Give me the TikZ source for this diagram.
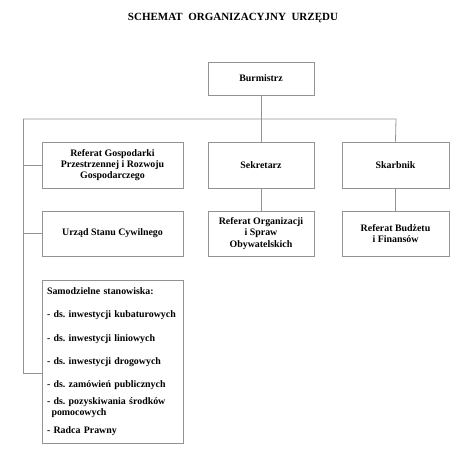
\documentclass[tikz,border=0pt]{standalone}
\usepackage{fontspec}
\setmainfont{Liberation Serif}
\usepackage{tikz}
\usetikzlibrary{positioning}
\frenchspacing

\begin{document}
\begin{tikzpicture}[x=1pt,y=1pt,font=\bfseries\fontsize{9.9}{11.2}\selectfont]
\useasboundingbox (0,0) rectangle (474,-471);
\node[font=\bfseries\fontsize{11}{13}\selectfont] (title) at (233,-18) {SCHEMAT\ \ ORGANIZACYJNY\ \ URZĘDU};

\begin{scope}[every node/.style={rectangle,draw=gray!85,line width=0.8pt,align=center,inner sep=2pt,minimum height=46pt}]
	\node[minimum width=106pt,minimum height=33pt] (burm) at (261,-78.5) {Burmistrz};

	\node[minimum width=141pt] (gosp) at (112.5,-165) {Referat Gospodarki\\
	Przestrzennej i Rozwoju\\ Gospodarczego};
	\node[minimum width=106pt] (sekr) at (261,-165) {Sekretarz};
	\node[minimum width=107pt] (skarb) at (395.5,-165) {Skarbnik};

	\node[minimum width=141pt,minimum height=45pt] (usc) at (112.5,-233.5) {Urząd Stanu Cywilnego};
	\node[minimum width=106pt,minimum height=45pt] (org) at (261,-233.5) {Referat Organizacji\\
	i Spraw\\ Obywatelskich};
	\node[minimum width=107pt,minimum height=45pt] (budz) at (395.5,-233.5) {Referat Budżetu\\
	i Finansów};

	\node[minimum width=141pt,minimum height=163pt,align=left,text width=131pt] (samo) at (112.5,-361.5) {Samodzielne stanowiska:\\[12.2pt]
	- ds.\ inwestycji kubaturowych\\[12.2pt]
	- ds.\ inwestycji liniowych\\[12.2pt]
	- ds.\ inwestycji drogowych\\[12.2pt]
	- ds.\ zamówień publicznych\\[5.5pt]
	- ds.\ pozyskiwania środków\\
	\hspace*{4.5pt}pomocowych\\[6.5pt]
	- Radca Prawny};
\end{scope}

\begin{scope}[draw=gray!85,line width=0.8pt]
	\coordinate (busl) at (23,-119);
	\coordinate (busr) at (396,-119);
	\coordinate (tap) at (23,-373);
	\draw (burm) -- (sekr);
	\draw (sekr) -- (org);
	\draw (busl) -- (busr) -- (skarb.north);
	\draw (skarb) -- (budz);
	\draw (busl) -- (tap) -- (tap -| samo.west);
	\draw (busl |- gosp.west) -- (gosp.west);
	\draw (busl |- usc.west) -- (usc.west);
\end{scope}
\end{tikzpicture}
\end{document}
